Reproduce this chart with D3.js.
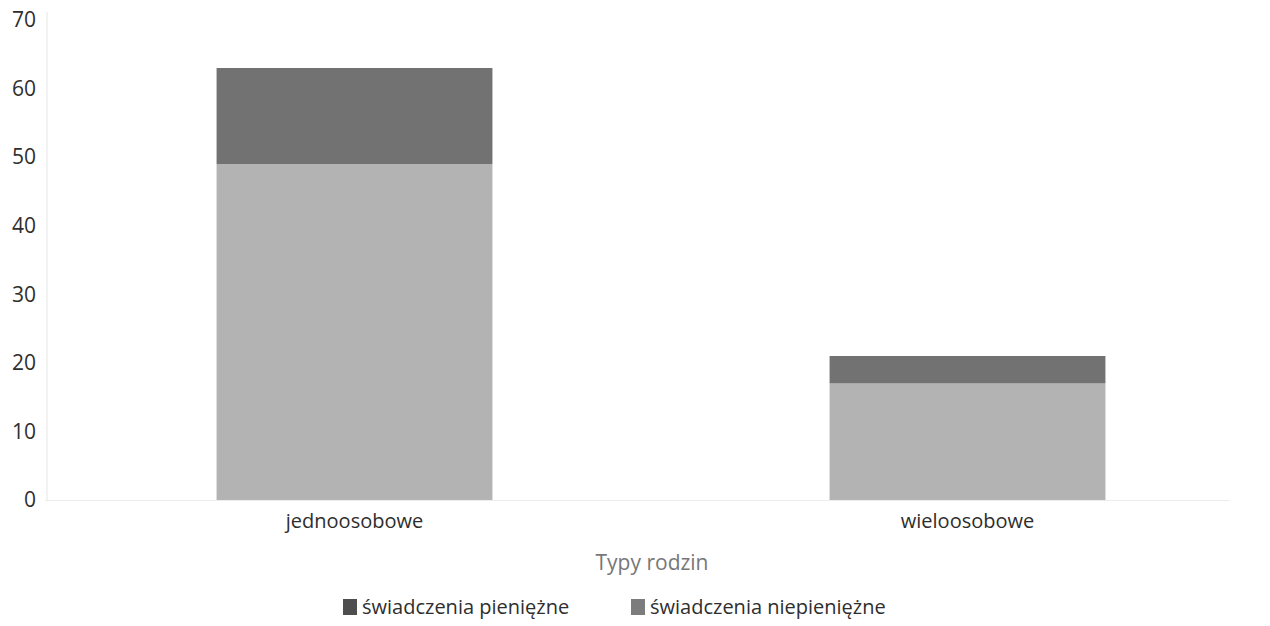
<!DOCTYPE html>
<html><head><meta charset="utf-8">
<script src="https://cdn.jsdelivr.net/npm/d3@7"></script>
<style>body{margin:0;background:#fff;}</style>
</head><body>
<svg id="c" width="1270" height="626" style="font-family:'Open Sans',sans-serif"></svg>
<script>
const categories = ["jednoosobowe", "wieloosobowe"];
const seriesNames = ["świadczenia pieniężne", "świadczenia niepieniężne"];
const pieniezne = [14, 4];
const niepieniezne = [49, 17];
const yTicks = [0, 10, 20, 30, 40, 50, 60, 70];
const xTitle = "Typy rodzin";

const svg = d3.select("#c");
const x0 = 48, x1 = 1274, yTop = 20, yBot = 500;
const x = d3.scaleBand().domain(categories).range([x0, x1]).paddingInner(0.55).paddingOuter(0.275);
const y = d3.scaleLinear().domain([0, 70]).range([yBot, yTop]);
const color = d3.scaleOrdinal().domain(seriesNames).range(["#727272", "#b3b3b3"]);
const legendColor = d3.scaleOrdinal().domain(seriesNames).range(["#4e4e4e", "#7c7c7c"]);

// axis line & baseline
svg.append("line").attr("x1", x0-1).attr("x2", x0-1).attr("y1", y(70)-8).attr("y2", yBot).attr("stroke", "#e6e6e6");
svg.append("line").attr("x1", x0-3).attr("x2", 1230).attr("y1", yBot+0.5).attr("y2", yBot+0.5).attr("stroke", "#ececec");

// y labels
const yAxis = d3.axisLeft(y).tickValues(yTicks).tickSize(0).tickPadding(11);
const ga = svg.append("g").attr("transform", `translate(${x0-1},0)`).call(yAxis);
ga.select(".domain").remove();
ga.selectAll("text").style("font-size", "21px").attr("fill", "#2e2e2e").style("font-family", "'Open Sans', sans-serif");

// stacked bars
const rows = categories.map((c, i) => ({cat: c, [seriesNames[0]]: pieniezne[i], [seriesNames[1]]: niepieniezne[i]}));
const stack = d3.stack().keys([seriesNames[1], seriesNames[0]])(rows);
svg.append("g").selectAll("g").data(stack).join("g").attr("fill", d => color(d.key))
  .selectAll("rect").data(d => d).join("rect")
  .attr("x", d => x(d.data.cat)).attr("width", x.bandwidth())
  .attr("y", d => y(d[1])).attr("height", d => y(d[0]) - y(d[1]));

// x labels
const xAxis = d3.axisBottom(x).tickSize(0).tickPadding(14);
const gx = svg.append("g").attr("transform", `translate(0,${yBot})`).call(xAxis);
gx.select(".domain").remove();
gx.selectAll("text").style("font-size", "20px").attr("fill", "#2e2e2e").style("font-family", "'Open Sans', sans-serif");

svg.append("text").attr("x", 652).attr("y", 570).attr("text-anchor", "middle")
  .style("font-size", "21px").attr("fill", "#777").style("font-family", "'Open Sans', sans-serif").text(xTitle);

// legend
const lx = [343, 631];
const lg = svg.append("g").selectAll("g").data(seriesNames).join("g")
  .attr("transform", (d, i) => `translate(${lx[i]},599)`);
lg.append("rect").attr("width", 14).attr("height", 16).attr("fill", d => legendColor(d));
lg.append("text").attr("x", 19).attr("y", 15).style("font-size", "20px").attr("fill", "#2e2e2e")
  .style("font-family", "'Open Sans', sans-serif").text(d => d);
</script>
</body></html>
